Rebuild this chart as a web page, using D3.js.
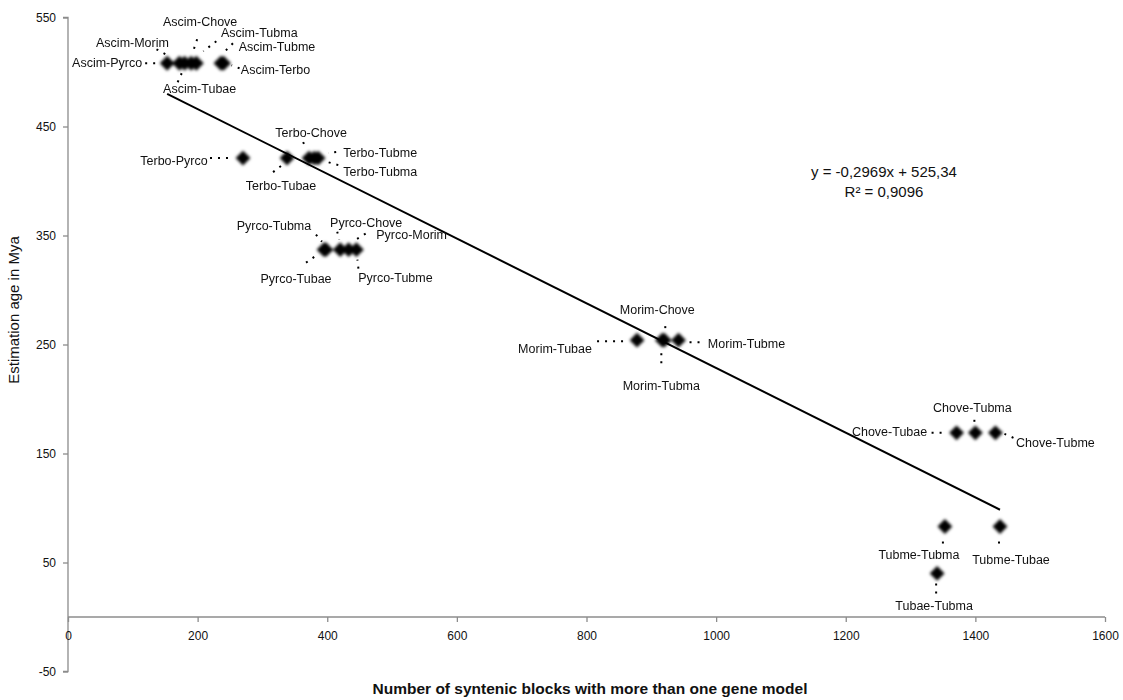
<!DOCTYPE html>
<html><head><meta charset="utf-8">
<script src="https://cdn.jsdelivr.net/npm/d3@7"></script>
<style>body{margin:0;background:#fff}svg{display:block}text{font-family:"Liberation Sans",Arial,sans-serif;fill:#111}</style>
</head><body><svg id="c" width="1123" height="700"></svg>
<script>
// ---- data ----
const pairLabels = ["Ascim-Pyrco","Ascim-Morim","Ascim-Tubae","Ascim-Chove","Ascim-Tubma","Ascim-Tubme","Ascim-Terbo",
  "Terbo-Pyrco","Terbo-Tubae","Terbo-Chove","Terbo-Tubma","Terbo-Tubme",
  "Pyrco-Tubae","Pyrco-Tubma","Pyrco-Chove","Pyrco-Morim","Pyrco-Tubme",
  "Morim-Tubae","Morim-Tubma","Morim-Chove","Morim-Tubme",
  "Chove-Tubae","Chove-Tubma","Chove-Tubme",
  "Tubme-Tubma","Tubme-Tubae","Tubae-Tubma"];
const syntenicBlocks = [153,172,180,190,198,236,240, 270,338,372,380,386, 395,398,420,433,445, 878,917,920,942, 1371,1400,1431, 1353,1438,1341];
const ageMya = [508,508,508,508,508,508,508, 421,421,421,421,421, 337,337,337,337,337, 254,254,254,254, 169,169,169, 83,83,40];
const xTicks = [0,200,400,600,800,1000,1200,1400,1600];
const yTicks = [-50,50,150,250,350,450,550];
const trendCoef = [-0.2969, 525.34];
const equationLines = ["y = -0,2969x + 525,34","R² = 0,9096"];
const xTitle = "Number of syntenic blocks with more than one gene model";
const yTitle = "Estimation age in Mya";

// ---- layout (label offsets and leader offsets, px relative to marker) ----
const labelOffset = [[-60,0],[-47,-20],[15,26],[9,-41],[63,-30],[56,-16],[52,7],
  [-69,3],[-6,28],[2,-25],[66,14],[62,-5],
  [-28,29],[-52,-24],[26,-27],[63,-15],[39,28],
  [-82,9],[-1,46],[-7,-30],[68,4],
  [-67,-1],[-3,-25],[60,10],
  [-26,28],[11,33],[-3,33]];
const leaderOffset = [[-22,0,-10,0],[-23,-14,-10,-7],[-7,19,-3,10],[6,-24,2,-12],[20,-22,7,-12],[12,-20,3,-11],[16,5,8,2],
  [-33,0,-10,0],[-14,14,-5,7],[-6,-16,-3,-10],[24,7,10,3],[18,-6,10,-5],
  [-18,13,-8,6],[-10,-15,-4,-8],[-3,-18,-1,-10],[17,-16,7,-10],[2,19,1,10],
  [-40,1,-11,1],[-1,23,-1,11],[1,-14,1,-9],[21,2,11,2],
  [-25,0,-12,0],[-1,-13,-1,-10],[18,5,9,1],
  [-2,17,-2,9],[-1,17,-1,9],[-1,20,-1,10]];

const svg = d3.select("#c");
const x = d3.scaleLinear().domain([0,1600]).range([68,1105]);
const y = d3.scaleLinear().domain([-50,550]).range([671.5,17.5]);
const axisColor = "#8c8c8c";
const fmt = d => String(d);

const defs = svg.append("defs");
defs.append("filter").attr("id","blur").attr("x","-50%").attr("y","-50%").attr("width","200%").attr("height","200%")
  .append("feGaussianBlur").attr("stdDeviation",1.6);

// y axis
const yAx = svg.append("g").attr("transform",`translate(${x(0)},0)`)
  .call(d3.axisLeft(y).tickValues(yTicks).tickSize(5).tickPadding(7).tickFormat(fmt));
yAx.select(".domain").attr("stroke",axisColor).attr("stroke-width",1.3).attr("d",`M-5,${y(550)}H0V${y(-50)}H-5`);
yAx.selectAll(".tick line").attr("stroke",axisColor).attr("stroke-width",1.3);
yAx.selectAll(".tick text").attr("font-size",12).style("font-family","Liberation Sans, Arial").attr("fill","#111");

// x axis at y=0
const xAx = svg.append("g").attr("transform",`translate(0,${y(0)})`)
  .call(d3.axisBottom(x).tickValues(xTicks).tickSize(5).tickPadding(9).tickFormat(fmt));
xAx.select(".domain").attr("stroke",axisColor).attr("stroke-width",1.3).attr("d",`M${x(0)},0H${x(1600)}`);
xAx.selectAll(".tick line").attr("stroke",axisColor).attr("stroke-width",1.3);
xAx.selectAll(".tick text").attr("font-size",12).style("font-family","Liberation Sans, Arial").attr("fill","#111");

// titles
svg.append("text").attr("x",590).attr("y",694).attr("text-anchor","middle")
  .attr("font-size",15.5).attr("font-weight","bold").text(xTitle);
svg.append("text").attr("transform",`translate(19,310) rotate(-90)`).attr("text-anchor","middle")
  .attr("font-size",15).text(yTitle);

// trendline
const xs = d3.extent(syntenicBlocks);
svg.append("line")
  .attr("x1",x(xs[0])).attr("y1",y(trendCoef[0]*xs[0]+trendCoef[1]))
  .attr("x2",x(xs[1])).attr("y2",y(trendCoef[0]*xs[1]+trendCoef[1]))
  .attr("stroke","#000").attr("stroke-width",2);

// equation
svg.selectAll(".eq").data(equationLines).enter().append("text")
  .attr("x",884).attr("y",(d,i)=>177+i*20).attr("text-anchor","middle").attr("font-size",15).text(d=>d);

const pts = pairLabels.map((n,i)=>({n, px:x(syntenicBlocks[i]), py:y(ageMya[i]), i}));

// leaders
svg.append("g").selectAll("line").data(pts).enter().append("line")
  .attr("x1",d=>d.px+leaderOffset[d.i][0]).attr("y1",d=>d.py+leaderOffset[d.i][1])
  .attr("x2",d=>d.px+leaderOffset[d.i][2]).attr("y2",d=>d.py+leaderOffset[d.i][3])
  .attr("stroke","#000").attr("stroke-width",2).attr("stroke-dasharray","2,6");

// markers
svg.append("g").attr("filter","url(#blur)").selectAll("path").data(pts).enter().append("path")
  .attr("transform",d=>`translate(${d.px},${d.py})`)
  .attr("d",d3.symbol().type(d3.symbolDiamond2).size(140))
  .attr("fill","#000");

// labels
svg.append("g").selectAll("text").data(pts).enter().append("text")
  .attr("x",d=>d.px+labelOffset[d.i][0]).attr("y",d=>d.py+labelOffset[d.i][1])
  .attr("text-anchor","middle").attr("dominant-baseline","central").attr("font-size",12.5).text(d=>d.n);
</script></body></html>
